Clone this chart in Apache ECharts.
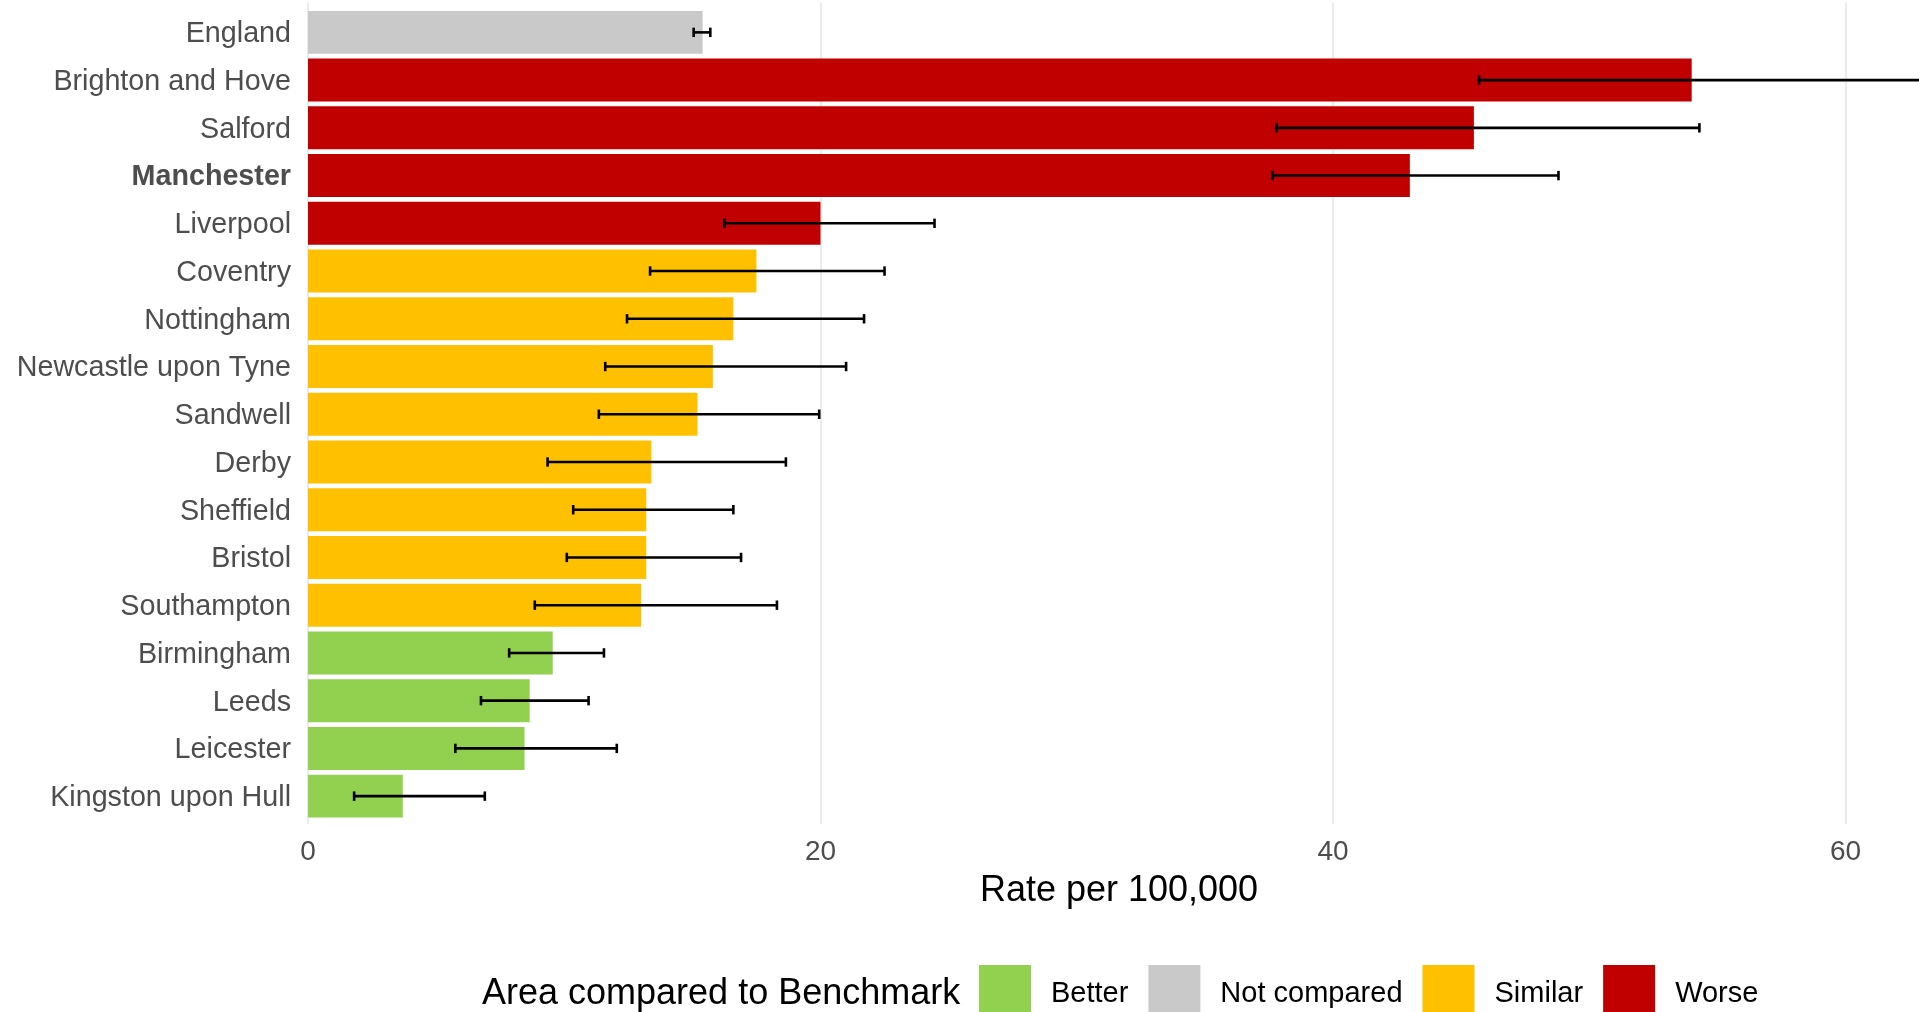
<!DOCTYPE html>
<html>
<head>
<meta charset="utf-8">
<script src="https://cdn.jsdelivr.net/npm/echarts@6/dist/echarts.min.js"></script>
<style>
html,body{margin:0;padding:0;background:#fff;}
#chart{width:1919px;height:1012px;}
</style>
</head>
<body>
<div id="chart"></div>
<script>
var categories = ["England","Brighton and Hove","Salford","Manchester","Liverpool","Coventry","Nottingham","Newcastle upon Tyne","Sandwell","Derby","Sheffield","Bristol","Southampton","Birmingham","Leeds","Leicester","Kingston upon Hull"];
var values = [15.4, 54.0, 45.5, 43.0, 20.0, 17.5, 16.6, 15.8, 15.2, 13.4, 13.2, 13.2, 13.0, 9.55, 8.65, 8.45, 3.7];
var lower  = [15.05, 45.7, 37.8, 37.65, 16.25, 13.35, 12.45, 11.6, 11.35, 9.35, 10.35, 10.1, 8.85, 7.85, 6.75, 5.75, 1.8];
var upper  = [15.7, 63.5, 54.3, 48.8, 24.45, 22.5, 21.7, 21.0, 19.95, 18.65, 16.6, 16.9, 18.3, 11.55, 10.95, 12.05, 6.9];
var comparison = ["Not compared","Worse","Worse","Worse","Worse","Similar","Similar","Similar","Similar","Similar","Similar","Similar","Similar","Better","Better","Better","Better"];
var groups = ["Better","Not compared","Similar","Worse"];
var groupColors = {"Better":"#92D050","Not compared":"#C9C9C9","Similar":"#FFC000","Worse":"#C00000"};
var xTicks = [0, 20, 40, 60];
var boldCategory = "Manchester";

var FONT = "'Liberation Sans', Arial, Helvetica, sans-serif";
var chart = echarts.init(document.getElementById('chart'), null, {renderer:'canvas'});

var X_MAX = 62.87;

var barSeries = groups.map(function(g){
  return {
    name: g,
    type: 'bar',
    xAxisIndex: 0, yAxisIndex: 0,
    barWidth: '90%',
    barGap: '-100%',
    itemStyle: {color: groupColors[g]},
    data: values.map(function(v, i){ return comparison[i] === g ? v : '-'; }),
    z: 2
  };
});

var errData = categories.map(function(c, i){ return [i, lower[i], upper[i]]; });

var option = {
  backgroundColor: '#ffffff',
  animation: false,
  textStyle: {fontFamily: FONT},
  grid: [
    {left: 308, right: 0, top: 8.5, height: 811.5},
    {left: 308, right: 0, top: 2.5, height: 821.5}
  ],
  xAxis: [
    {
      type: 'value', gridIndex: 0, min: 0, max: X_MAX, interval: 20,
      axisLine: {show: false}, axisTick: {show: false},
      splitLine: {show: false},
      axisLabel: {
        show: true, margin: 18, fontSize: 28, color: '#4D4D4D', fontFamily: FONT,
        showMaxLabel: false,
        formatter: function(v){ return xTicks.indexOf(v) >= 0 ? String(v) : ''; }
      },
      name: 'Rate per 100,000', nameLocation: 'middle', nameGap: 53,
      nameTextStyle: {fontSize: 36, color: '#000000', fontFamily: FONT, padding: [0, 0, 0, 11]}
    },
    {
      type: 'value', gridIndex: 1, min: 0, max: X_MAX, interval: 20,
      axisLine: {show: false}, axisTick: {show: false}, axisLabel: {show: false},
      splitLine: {show: true, showMaxLine: false, lineStyle: {color: '#EBEBEB', width: 2}}
    }
  ],
  yAxis: [
    {
      type: 'category', gridIndex: 0, data: categories, inverse: true,
      axisLine: {show: false}, axisTick: {show: false}, splitLine: {show: false},
      axisLabel: {
        margin: 17, fontSize: 28.7, color: '#4D4D4D', fontFamily: FONT, padding: [4, 0, 0, 0],
        formatter: function(v){ return v === boldCategory ? '{b|' + v + '}' : v; },
        rich: {b: {fontWeight: 'bold', fontSize: 28.7, color: '#4D4D4D', fontFamily: FONT}}
      }
    },
    {
      type: 'value', gridIndex: 1, show: false, min: 0, max: 1
    }
  ],
  legend: {
    data: groups,
    left: 979, top: 965,
    padding: 0,
    orient: 'horizontal',
    itemWidth: 52, itemHeight: 52, itemGap: 20,
    icon: 'rect',
    selectedMode: false,
    formatter: function(name){ return '{t|' + name + '}'; },
    textStyle: {
      fontSize: 29, color: '#000000', fontFamily: FONT, padding: [0, 0, 0, 15],
      rich: {t: {fontSize: 29, color: '#000000', fontFamily: FONT, padding: [5, 0, 0, 0]}}
    }
  },
  graphic: [
    {
      type: 'text', x: 482, y: 994,
      style: {text: 'Area compared to Benchmark', fontSize: 36, fill: '#000000', fontFamily: FONT, verticalAlign: 'middle', align: 'left'}
    }
  ],
  series: barSeries.concat([
    {
      name: 'CI',
      type: 'custom',
      xAxisIndex: 0, yAxisIndex: 0,
      encode: {x: [1, 2], y: 0},
      data: errData,
      z: 5,
      renderItem: function(params, api){
        var i = api.value(0);
        var p1 = api.coord([api.value(1), i]);
        var p2 = api.coord([api.value(2), i]);
        var h = 4.7;
        var st = {stroke: '#000000', lineWidth: 2.6};
        return {
          type: 'group',
          children: [
            {type: 'line', shape: {x1: p1[0], y1: p1[1], x2: p2[0], y2: p2[1]}, style: st},
            {type: 'line', shape: {x1: p1[0], y1: p1[1] - h, x2: p1[0], y2: p1[1] + h}, style: st},
            {type: 'line', shape: {x1: p2[0], y1: p2[1] - h, x2: p2[0], y2: p2[1] + h}, style: st}
          ]
        };
      }
    }
  ])
};
chart.setOption(option);
</script>
</body>
</html>
